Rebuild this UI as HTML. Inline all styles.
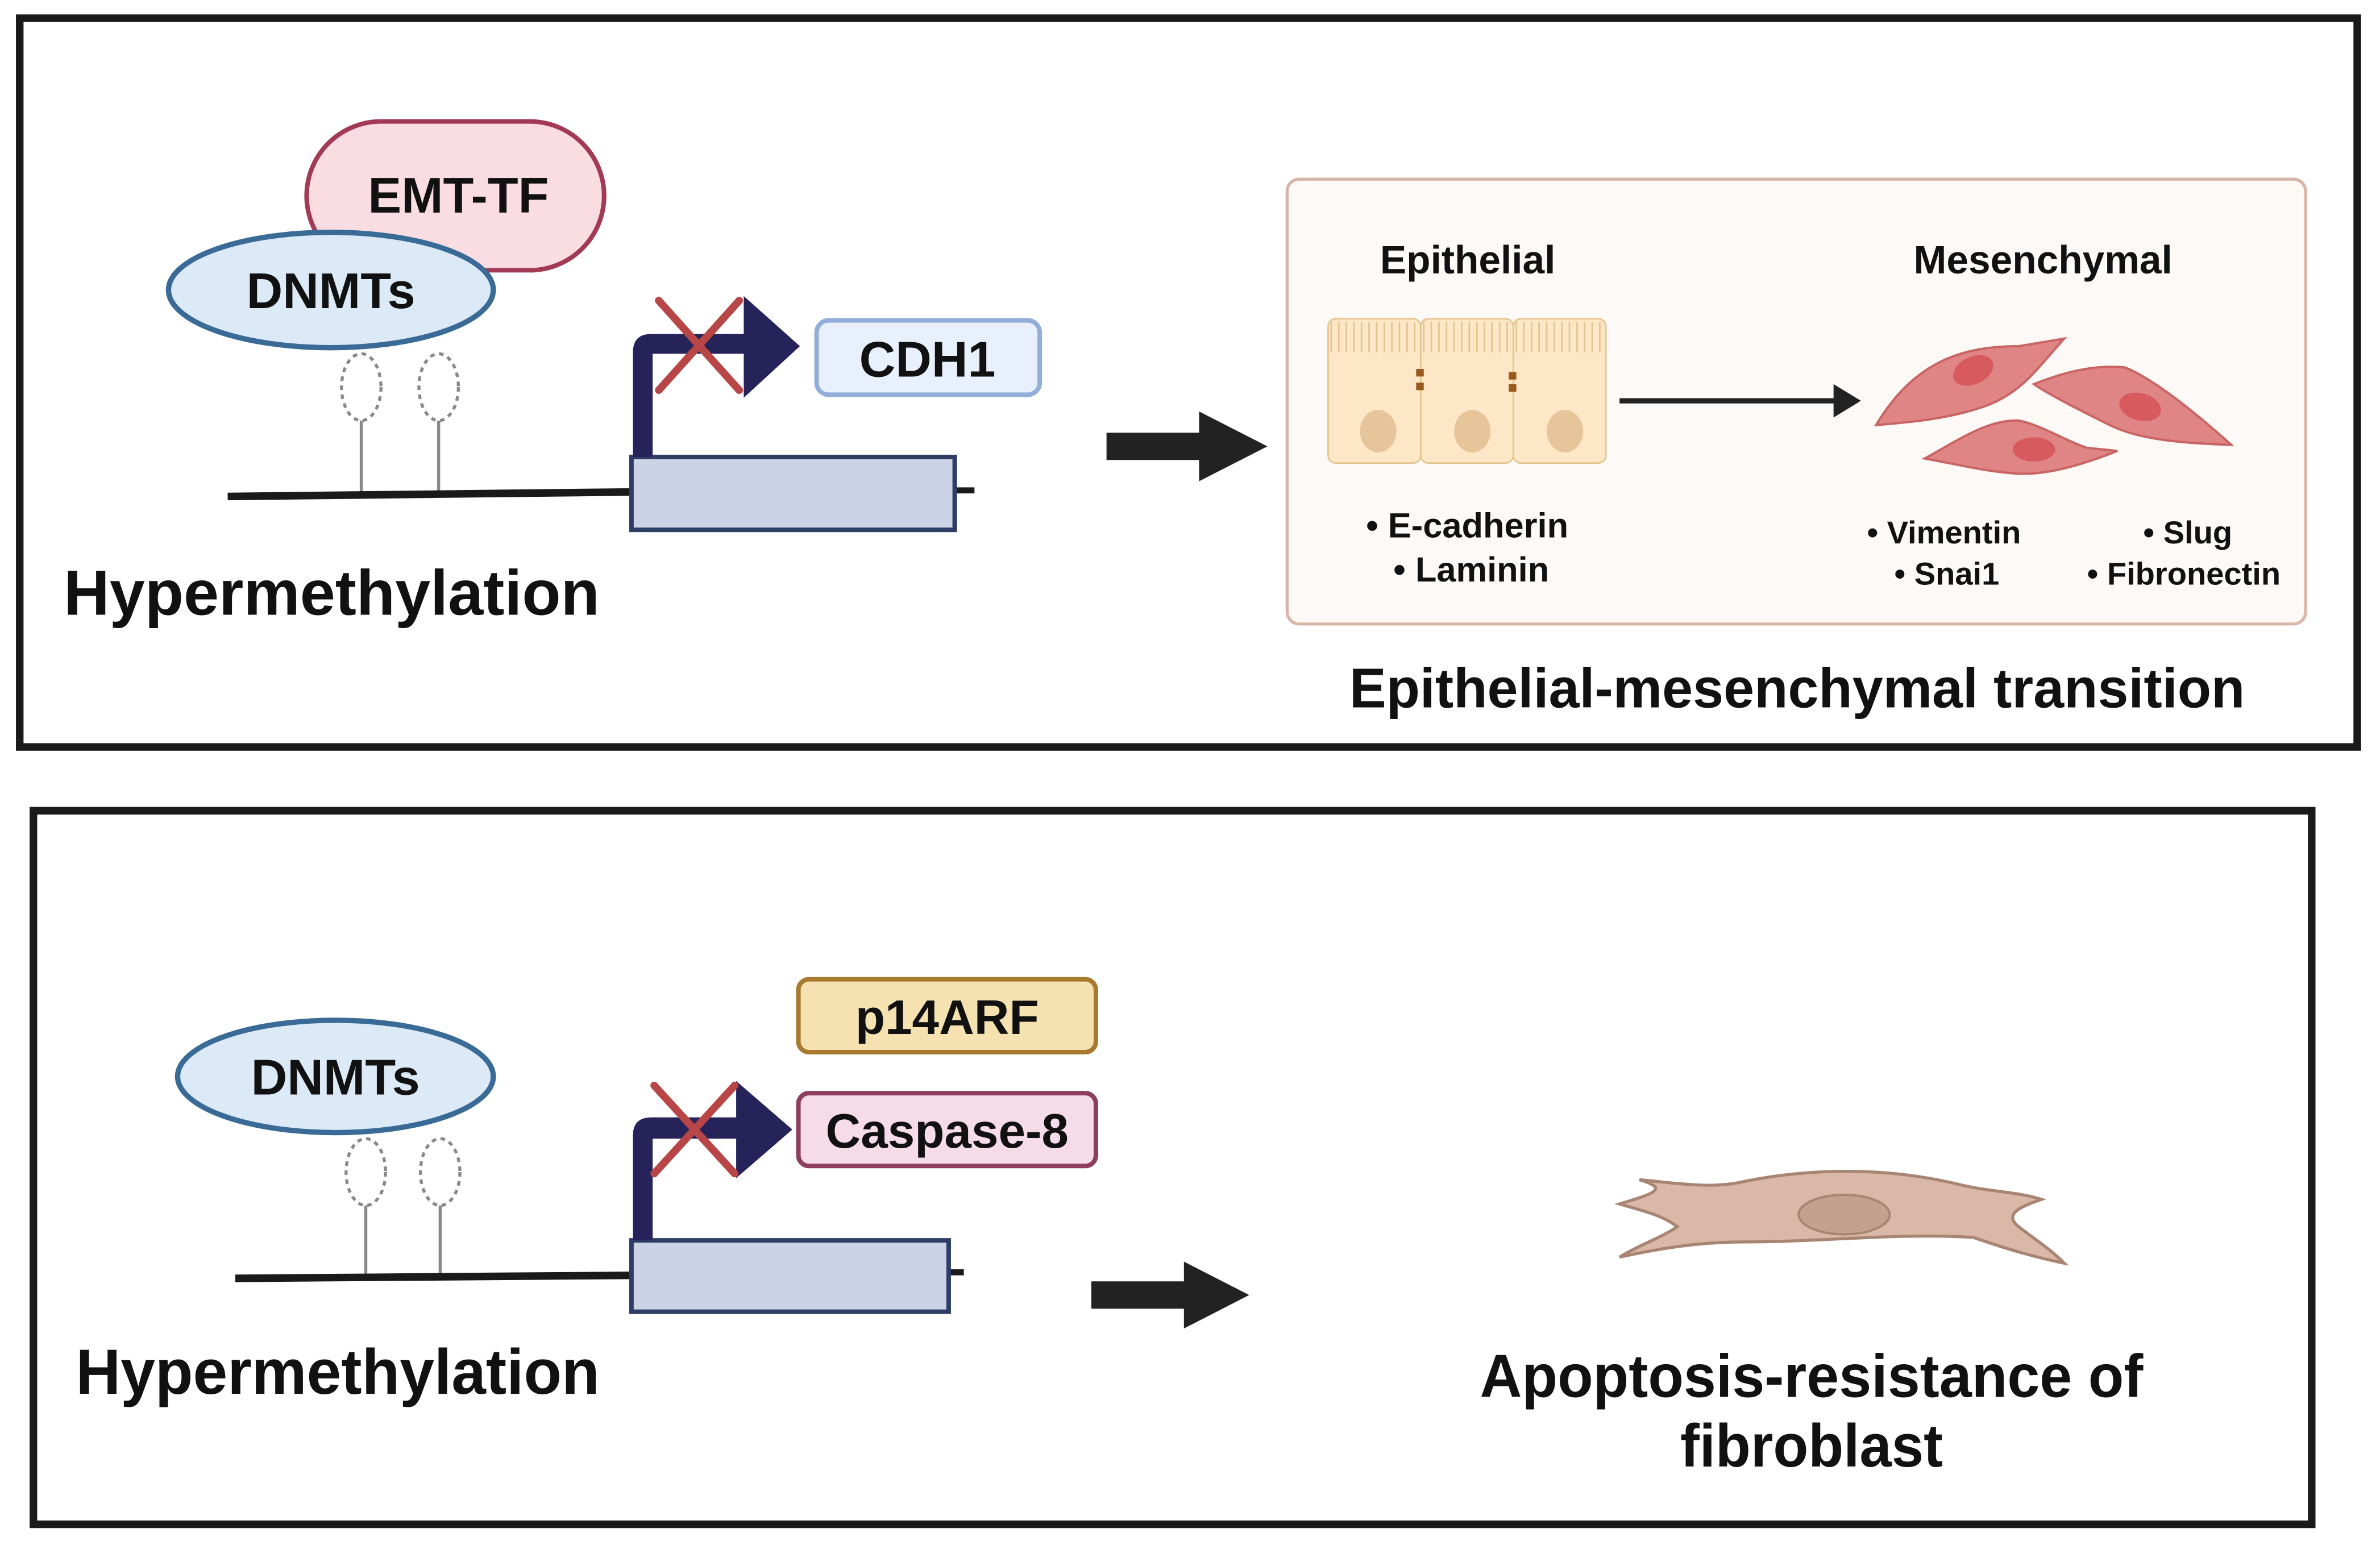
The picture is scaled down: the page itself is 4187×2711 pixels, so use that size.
<!DOCTYPE html>
<html><head><meta charset="utf-8"><style>
html,body{margin:0;padding:0;background:#fff;}
svg{display:block;}
text{font-family:"Liberation Sans",sans-serif;font-weight:bold;fill:#111;}
</style></head><body>
<svg width="4187" height="2711" viewBox="0 0 1568 1015" preserveAspectRatio="none" xmlns="http://www.w3.org/2000/svg">
<rect width="1568" height="1015" fill="#fff"/>
<!-- Top panel -->
<rect x="13" y="12" width="1540" height="480" fill="none" stroke="#1a1a1a" stroke-width="5"/>
<rect x="202" y="80" width="196" height="98" rx="49" fill="#fadde3" stroke="#a33a55" stroke-width="3"/>
<text x="302" y="140" font-size="33" text-anchor="middle">EMT-TF</text>
<ellipse cx="218" cy="191" rx="107" ry="38" fill="#dce9f7" stroke="#3a6b96" stroke-width="3.5"/>
<text x="218" y="203" font-size="33" text-anchor="middle">DNMTs</text>
<g stroke="#888" stroke-width="2">
<line x1="238" y1="277" x2="238" y2="325"/><line x1="289" y1="277" x2="289" y2="325"/>
<ellipse cx="238" cy="255" rx="13" ry="22" fill="none" stroke-dasharray="3,3"/>
<ellipse cx="289" cy="255" rx="13" ry="22" fill="none" stroke-dasharray="3,3"/>
</g>
<line x1="150" y1="327" x2="420" y2="324" stroke="#1a1a1a" stroke-width="5"/>
<line x1="625" y1="323" x2="642" y2="323" stroke="#1a1a1a" stroke-width="4"/>
<rect x="416" y="301" width="213" height="48" fill="#cdd3e6" stroke="#2d3d66" stroke-width="3"/>
<path d="M417 301 V232 Q417 220 429 220 H490 V195 L527 228 L490 262 V233 H430 V301 Z" fill="#25235a"/>
<g stroke="#b84646" stroke-width="5" stroke-linecap="round"><line x1="434" y1="198" x2="487" y2="257"/><line x1="487" y1="198" x2="434" y2="257"/></g>
<rect x="538" y="211" width="147" height="49" rx="8" fill="#e8f0fb" stroke="#94aedb" stroke-width="3"/>
<text x="611" y="248" font-size="33" text-anchor="middle">CDH1</text>
<text x="42" y="405" font-size="42" textLength="353" lengthAdjust="spacingAndGlyphs">Hypermethylation</text>
<path d="M729 285 H790 V271 L835 294 L790 317 V303 H729 Z" fill="#222"/>
<rect x="848" y="118" width="671" height="293" rx="8" fill="#fdf9f6" stroke="#d7b5a8" stroke-width="2"/>
<text x="967" y="180" font-size="26" text-anchor="middle">Epithelial</text>
<text x="1346" y="180" font-size="26" text-anchor="middle">Mesenchymal</text>
<g fill="#fde7c6" stroke="#e2c48f" stroke-width="1">
<rect x="875" y="210" width="61" height="95" rx="5"/>
<rect x="936" y="210" width="61" height="95" rx="5"/>
<rect x="997" y="210" width="61" height="95" rx="5"/>
</g>
<g stroke="#e2c48f" stroke-width="1" fill="none">
<path d="M877 232 V212 M882 232 V212 M887 232 V212 M892 232 V212 M897 232 V212 M902 232 V212 M907 232 V212 M912 232 V212 M917 232 V212 M922 232 V212 M927 232 V212 M932 232 V212 M938 232 V212 M943 232 V212 M948 232 V212 M953 232 V212 M958 232 V212 M963 232 V212 M968 232 V212 M973 232 V212 M978 232 V212 M983 232 V212 M988 232 V212 M993 232 V212 M999 232 V212 M1004 232 V212 M1009 232 V212 M1014 232 V212 M1019 232 V212 M1024 232 V212 M1029 232 V212 M1034 232 V212 M1039 232 V212 M1044 232 V212 M1049 232 V212 M1054 232 V212"/>
</g>
<g fill="#9a5a1e"><rect x="933" y="243" width="5" height="5"/><rect x="933" y="252" width="5" height="5"/><rect x="994" y="245" width="5" height="5"/><rect x="994" y="253" width="5" height="5"/></g>
<g fill="#e6c59a"><ellipse cx="908" cy="284" rx="12" ry="14"/><ellipse cx="970" cy="284" rx="12" ry="14"/><ellipse cx="1031" cy="284" rx="12" ry="14"/></g>
<line x1="1067" y1="264" x2="1210" y2="264" stroke="#222" stroke-width="3.5"/>
<path d="M1208 253 L1226 264 L1208 275 Z" fill="#222"/>
<g fill="#e08585" stroke="#c86464" stroke-width="1.5">
<path d="M1236 280 C1260 240 1290 228 1330 228 L1360 223 C1340 245 1330 262 1300 270 C1280 276 1260 278 1236 280 Z"/>
<path d="M1340 253 C1360 245 1380 240 1400 242 C1420 250 1450 275 1470 293 C1440 292 1410 290 1390 280 C1370 270 1350 260 1340 253 Z"/>
<path d="M1268 302 C1290 290 1310 276 1330 277 C1345 280 1360 290 1375 295 L1395 297 C1375 305 1350 313 1330 312 C1310 311 1290 306 1268 302 Z"/>
</g>
<g fill="#d65a5e"><ellipse cx="1300" cy="244" rx="14" ry="9" transform="rotate(-25 1300 244)"/><ellipse cx="1410" cy="268" rx="14" ry="9" transform="rotate(15 1410 268)"/><ellipse cx="1340" cy="296" rx="14" ry="8"/></g>
<text x="900" y="354" font-size="23">• E-cadherin</text>
<text x="918" y="383" font-size="23">• Laminin</text>
<text x="1230" y="358" font-size="21">• Vimentin</text>
<text x="1248" y="385" font-size="21">• Snai1</text>
<text x="1412" y="358" font-size="21">• Slug</text>
<text x="1375" y="385" font-size="21">• Fibronectin</text>
<text x="889" y="466" font-size="37" textLength="590" lengthAdjust="spacingAndGlyphs">Epithelial-mesenchymal transition</text>

<!-- Bottom panel -->
<rect x="22" y="534" width="1501" height="470" fill="none" stroke="#1a1a1a" stroke-width="5"/>
<ellipse cx="221" cy="709" rx="104" ry="37" fill="#dce9f7" stroke="#3a6b96" stroke-width="3.5"/>
<text x="221" y="721" font-size="33" text-anchor="middle">DNMTs</text>
<g stroke="#888" stroke-width="2">
<line x1="241" y1="794" x2="241" y2="840"/><line x1="290" y1="794" x2="290" y2="840"/>
<ellipse cx="241" cy="772" rx="13" ry="22" fill="none" stroke-dasharray="3,3"/>
<ellipse cx="290" cy="772" rx="13" ry="22" fill="none" stroke-dasharray="3,3"/>
</g>
<line x1="155" y1="842" x2="420" y2="840" stroke="#1a1a1a" stroke-width="5"/>
<line x1="622" y1="838" x2="635" y2="838" stroke="#1a1a1a" stroke-width="4"/>
<rect x="416" y="817" width="209" height="47" fill="#cdd3e6" stroke="#2d3d66" stroke-width="3"/>
<path d="M417 817 V748 Q417 736 429 736 H485 V712 L522 744 L485 776 V750 H430 V817 Z" fill="#25235a"/>
<g stroke="#b84646" stroke-width="5" stroke-linecap="round"><line x1="431" y1="715" x2="484" y2="773"/><line x1="484" y1="715" x2="431" y2="773"/></g>
<rect x="526" y="645" width="196" height="48" rx="7" fill="#f5e2b0" stroke="#a77a2f" stroke-width="3"/>
<text x="624" y="681" font-size="32" text-anchor="middle">p14ARF</text>
<rect x="526" y="720" width="196" height="48" rx="7" fill="#f6dbe8" stroke="#8e3f5e" stroke-width="3"/>
<text x="624" y="756" font-size="32" text-anchor="middle">Caspase-8</text>
<text x="50" y="918" font-size="42" textLength="345" lengthAdjust="spacingAndGlyphs">Hypermethylation</text>
<path d="M719 844 H780 V831 L823 853 L780 875 V862 H719 Z" fill="#222"/>
<path d="M1067 793 C1090 786 1100 783 1080 777 C1110 780 1130 783 1150 778 C1190 770 1240 768 1290 780 C1310 785 1330 785 1345 790 C1330 795 1320 800 1330 808 C1340 816 1350 822 1360 832 C1340 828 1320 822 1300 815 C1250 812 1200 818 1150 818 C1120 818 1095 822 1067 828 C1080 820 1095 815 1105 808 C1095 800 1080 797 1067 793 Z" fill="#d9b8a8" stroke="#a88472" stroke-width="2"/>
<ellipse cx="1215" cy="800" rx="30" ry="13" fill="#c4a08f" stroke="#a88472" stroke-width="1.5"/>
<text x="975" y="920" font-size="40" textLength="437" lengthAdjust="spacingAndGlyphs">Apoptosis-resistance of</text>
<text x="1107" y="966" font-size="40" textLength="173" lengthAdjust="spacingAndGlyphs">fibroblast</text>
</svg>
</body></html>
